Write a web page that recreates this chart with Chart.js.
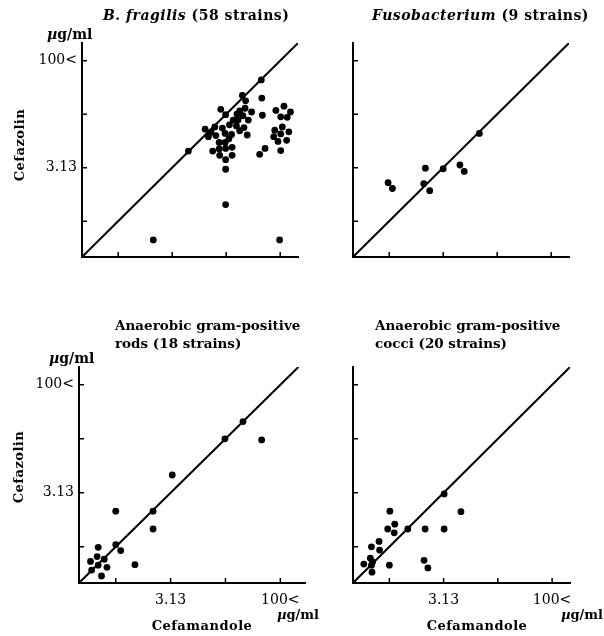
<!DOCTYPE html>
<html lang="en">
<head>
<meta charset="UTF-8">
<title>Cefazolin vs Cefamandole</title>
<script src="https://cdn.jsdelivr.net/npm/chart.js"></script>
<style>
  body { margin: 0; background: #fff; }
  #wrap { position: relative; width: 604px; height: 636px; overflow: hidden; }
  canvas { position: absolute; }
</style>
</head>
<body>
<div id="wrap">
  <canvas id="fragilis" width="330" height="300" style="left:0;top:0"></canvas>
  <canvas id="fuso" width="302" height="300" style="left:302px;top:0"></canvas>
  <canvas id="rods" width="330" height="336" style="left:0;top:300px"></canvas>
  <canvas id="cocci" width="302" height="336" style="left:302px;top:300px"></canvas>
</div>
<script>
// both axes are dilution scales; one unit = one tick step
const tickValues = [1, 2, 3, 4];
const tickLabels = ['', '3.13', '', '100<'];
const axisMin = 0.33;
const axisMax = 4.33;

// B. fragilis (58 strains)
const fragilisX = [2.30, 3.65, 1.65, 3.99, 2.99, 2.99, 3.66, 3.67, 3.62, 3.72,
  3.92, 4.07, 4.19, 4.01, 4.13, 4.04, 3.90, 4.16, 4.01, 3.88, 4.12, 3.96, 4.01,
  3.30, 3.36, 2.90, 3.25, 3.35, 3.47, 2.99, 3.31, 3.13, 3.22, 3.41, 2.61, 2.79,
  2.93, 3.06, 3.19, 3.33, 2.67, 2.81, 2.98, 3.10, 3.39, 2.75, 2.87, 2.98, 3.11,
  2.87, 2.88, 2.99, 3.11, 2.99, 2.72, 3.25, 3.20, 3.05];
const fragilisY = [2.31, 3.64, 0.65, 0.65, 1.31, 1.97, 3.30, 2.98, 2.25, 2.36,
  3.07, 3.15, 3.04, 2.95, 2.94, 2.76, 2.70, 2.67, 2.63, 2.58, 2.51, 2.49, 2.32,
  3.35, 3.25, 3.09, 3.06, 3.11, 3.04, 2.99, 2.97, 2.89, 2.89, 2.89, 2.72, 2.76,
  2.74, 2.80, 2.78, 2.75, 2.58, 2.60, 2.64, 2.62, 2.61, 2.31, 2.35, 2.47, 2.38,
  2.47, 2.23, 2.15, 2.23, 2.36, 2.66, 2.69, 3.00, 2.54];

// Fusobacterium (9 strains)
const fusoX = [0.98, 1.06, 1.67, 1.64, 1.75, 2.00, 2.31, 2.39, 2.67];
const fusoY = [1.72, 1.61, 1.99, 1.70, 1.57, 1.98, 2.05, 1.93, 2.64];

// Anaerobic gram-positive rods (18 strains)
const rodsX = [3.32, 2.99, 3.66, 2.03, 1.68, 1.68, 1.00, 1.00, 1.09, 1.35,
  0.68, 0.54, 0.66, 0.79, 0.68, 0.56, 0.84, 0.74];
const rodsY = [3.32, 3.00, 2.98, 2.33, 1.66, 1.33, 1.66, 1.04, 0.93, 0.67,
  0.99, 0.73, 0.82, 0.77, 0.66, 0.57, 0.62, 0.46];

// Anaerobic gram-positive cocci (20 strains)
const cocciX = [2.01, 2.32, 1.01, 1.10, 0.97, 1.09, 1.34, 1.66, 2.01, 0.81,
  0.67, 0.82, 0.65, 0.53, 0.67, 1.00, 0.68, 1.64, 1.71, 0.69];
const cocciY = [1.98, 1.65, 1.66, 1.42, 1.33, 1.26, 1.33, 1.33, 1.33, 1.10,
  1.00, 0.94, 0.79, 0.68, 0.66, 0.66, 0.53, 0.75, 0.61, 0.72];

const serif = 'DejaVu Serif';
const bold = 'bold 14px ' + serif;
const boldItalic = 'italic bold 14px ' + serif;
const subtitle = 'bold 13.5px ' + serif;
const small = 'bold 13px ' + serif;
const smallItalic = 'italic bold 13px ' + serif;

// small inward tick marks on both axes
const tickMarks = {
  id: 'tickMarks',
  afterDatasetsDraw(chart) {
    const {ctx, chartArea: a, scales: {x, y}} = chart;
    ctx.save();
    ctx.strokeStyle = '#000';
    ctx.lineWidth = 1.5;
    ctx.beginPath();
    tickValues.forEach(v => {
      const px = x.getPixelForValue(v);
      ctx.moveTo(px, a.bottom);
      ctx.lineTo(px, a.bottom - 5);
      const py = y.getPixelForValue(v);
      ctx.moveTo(a.left, py);
      ctx.lineTo(a.left + 5, py);
    });
    ctx.stroke();
    ctx.restore();
  }
};

function textPlugin(items) {
  return {
    id: 'panelText',
    afterDraw(chart) {
      const ctx = chart.ctx;
      items.forEach(item => {
        ctx.save();
        ctx.fillStyle = '#000';
        ctx.textBaseline = 'alphabetic';
        ctx.textAlign = 'left';
        ctx.letterSpacing = (item.spacing || 0) + 'px';
        ctx.translate(item.x, item.y);
        if (item.rotate) ctx.rotate(item.rotate);
        let w = 0;
        item.parts.forEach(p => { ctx.font = p[1]; w += ctx.measureText(p[0]).width; });
        let x = item.center ? -w / 2 : 0;
        item.parts.forEach(p => {
          ctx.font = p[1];
          ctx.fillText(p[0], x, 0);
          x += ctx.measureText(p[0]).width;
        });
        ctx.restore();
      });
    }
  };
}

function axis(o, showLabels, max, fit) {
  return {
    type: 'linear',
    min: axisMin,
    max: max,
    afterBuildTicks: s => { s.ticks = tickValues.map(v => ({value: v})); },
    afterFit: fit,
    ticks: {
      display: showLabels,
      autoSkip: false,
      maxRotation: 0,
      padding: o,
      color: '#000',
      font: {family: serif, size: 14},
      callback: (v, i) => tickLabels[i]
    },
    grid: {drawOnChartArea: false, drawTicks: false},
    border: {color: '#000', width: 2}
  };
}

function panel(id, xs, ys, o) {
  const canvas = document.getElementById(id);
  const w = canvas.width, h = canvas.height;
  const [left, top, right, bottom] = o.area;
  new Chart(canvas, {
    type: 'scatter',
    data: {
      datasets: [{
        type: 'line',
        data: [{x: axisMin, y: axisMin}, {x: axisMax, y: axisMax}],
        borderColor: '#000',
        borderWidth: 2,
        pointRadius: 0
      }, {
        data: xs.map((x, i) => ({x: x, y: ys[i]})),
        pointRadius: 3.4,
        pointBackgroundColor: '#000',
        pointBorderWidth: 0
      }]
    },
    options: {
      responsive: false,
      animation: false,
      layout: {padding: {left: 0, top: top, right: w - right, bottom: 0}},
      plugins: {legend: {display: false}, tooltip: {enabled: false}},
      scales: {
        x: axis(9, o.xLabels, o.xMax || axisMax, s => { s.height = h - bottom; }),
        y: axis(5, o.yLabels, axisMax, s => { s.width = left; })
      }
    },
    plugins: [tickMarks, textPlugin(o.texts)]
  });
}

const unitY = [['µ', boldItalic], ['g/ml', bold]];
const unitX = [['µ', smallItalic], ['g/ml', small]];

panel('fragilis', fragilisX, fragilisY, {
  area: [82, 43, 298, 257], yLabels: true, xLabels: false,
  texts: [
    {x: 103, y: 20, spacing: 0.5, parts: [['B. fragilis', boldItalic], [' (58 strains)', bold]]},
    {x: 47, y: 39, parts: unitY},
    {x: 24, y: 145, center: true, rotate: -Math.PI / 2, spacing: 0.5, parts: [['Cefazolin', small]]}
  ]
});

panel('fuso', fusoX, fusoY, {
  area: [51, 43, 267, 257], yLabels: false, xLabels: false,
  texts: [
    {x: 70, y: 20, spacing: 0.5, parts: [['Fusobacterium', boldItalic], [' (9 strains)', bold]]}
  ]
});

panel('rods', rodsX, rodsY, {
  area: [79, 67, 305, 283], yLabels: true, xLabels: true, xMax: 4.45,
  texts: [
    {x: 115, y: 30, parts: [['Anaerobic gram-positive', subtitle]]},
    {x: 115, y: 48, parts: [['rods (18 strains)', subtitle]]},
    {x: 49, y: 63, parts: unitY},
    {x: 23, y: 167, center: true, rotate: -Math.PI / 2, spacing: 0.5, parts: [['Cefazolin', small]]},
    {x: 277, y: 319, parts: unitX},
    {x: 202, y: 330, center: true, spacing: 0.5, parts: [['Cefamandole', small]]}
  ]
});

panel('cocci', cocciX, cocciY, {
  area: [51, 67, 268, 283], yLabels: false, xLabels: true,
  texts: [
    {x: 73, y: 30, parts: [['Anaerobic gram-positive', subtitle]]},
    {x: 73, y: 48, parts: [['cocci (20 strains)', subtitle]]},
    {x: 259, y: 319, parts: unitX},
    {x: 175, y: 330, center: true, spacing: 0.5, parts: [['Cefamandole', small]]}
  ]
});
</script>
</body>
</html>
